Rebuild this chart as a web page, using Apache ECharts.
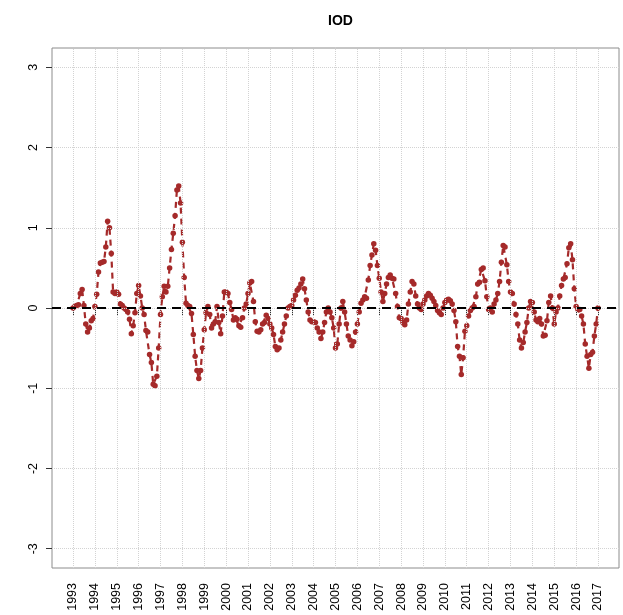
<!DOCTYPE html>
<html>
<head>
<meta charset="utf-8">
<script src="https://cdn.jsdelivr.net/npm/echarts@6/dist/echarts.min.js"></script>
<style>
html,body{margin:0;padding:0;background:#fff;}
#chart{width:623px;height:615px;}
</style>
</head>
<body>
<div id="chart"></div>
<script>
// Monthly IOD index, Jan 1993 .. Jan 2017
const startYear = 1993;
const iodValues = [
  // 1993
  0.00, 0.02, 0.03, 0.04, 0.18, 0.23, 0.03, -0.20, -0.30, -0.25, -0.16, -0.13,
  // 1994
  0.02, 0.17, 0.45, 0.56, 0.57, 0.58, 0.76, 1.08, 1.00, 0.68, 0.20, 0.18,
  // 1995
  0.20, 0.17, 0.05, 0.03, 0.00, -0.02, -0.05, -0.14, -0.32, -0.22, -0.06, 0.18,
  // 1996
  0.28, 0.15, 0.00, -0.08, -0.28, -0.30, -0.58, -0.68, -0.95, -0.97, -0.85, -0.50,
  // 1997
  -0.08, 0.14, 0.27, 0.20, 0.27, 0.50, 0.73, 0.93, 1.15, 1.47, 1.52, 1.31,
  // 1998
  0.82, 0.38, 0.06, 0.03, 0.02, -0.07, -0.33, -0.60, -0.78, -0.88, -0.78, -0.50,
  // 1999
  -0.27, -0.06, 0.02, -0.08, -0.25, -0.20, -0.17, 0.02, -0.18, -0.32, -0.10, 0.20,
  // 2000
  0.20, 0.18, 0.07, -0.02, -0.15, -0.12, -0.14, -0.22, -0.24, -0.12, 0.00, 0.05,
  // 2001
  0.18, 0.31, 0.33, 0.08, -0.17, -0.29, -0.30, -0.27, -0.20, -0.18, -0.09, -0.13,
  // 2002
  -0.20, -0.25, -0.33, -0.48, -0.52, -0.50, -0.40, -0.30, -0.20, -0.10, 0.00, 0.02,
  // 2003
  0.03, 0.10, 0.16, 0.22, 0.25, 0.30, 0.36, 0.24, 0.10, -0.05, -0.15, -0.17,
  // 2004
  -0.17, -0.18, -0.25, -0.30, -0.38, -0.30, -0.18, -0.05, 0.00, -0.05, -0.12, -0.25,
  // 2005
  -0.50, -0.45, -0.20, 0.00, 0.08, -0.05, -0.20, -0.35, -0.40, -0.47, -0.42, -0.30,
  // 2006
  -0.20, -0.05, 0.06, 0.10, 0.14, 0.12, 0.35, 0.53, 0.66, 0.80, 0.72, 0.53,
  // 2007
  0.37, 0.20, 0.08, 0.18, 0.30, 0.38, 0.41, 0.37, 0.36, 0.18, 0.02, -0.12,
  // 2008
  -0.13, -0.18, -0.21, -0.15, 0.05, 0.20, 0.33, 0.30, 0.15, 0.05, 0.00, -0.02,
  // 2009
  0.05, 0.10, 0.15, 0.18, 0.16, 0.12, 0.08, 0.03, -0.03, -0.06, -0.08, 0.00,
  // 2010
  0.07, 0.10, 0.11, 0.09, 0.05, -0.03, -0.17, -0.48, -0.60, -0.83, -0.62, -0.29,
  // 2011
  -0.22, -0.10, -0.03, 0.00, 0.02, 0.14, 0.30, 0.32, 0.48, 0.50, 0.34, 0.14,
  // 2012
  -0.02, 0.00, -0.05, 0.05, 0.10, 0.18, 0.33, 0.57, 0.78, 0.76, 0.54, 0.33,
  // 2013
  0.20, 0.18, 0.05, -0.08, -0.20, -0.40, -0.50, -0.43, -0.30, -0.18, 0.00, 0.08,
  // 2014
  0.07, -0.05, -0.15, -0.17, -0.13, -0.20, -0.35, -0.34, -0.16, 0.07, 0.15, 0.00,
  // 2015
  -0.20, -0.05, 0.00, 0.15, 0.28, 0.36, 0.38, 0.55, 0.75, 0.80, 0.60, 0.24,
  // 2016
  0.02, -0.02, -0.02, -0.10, -0.20, -0.45, -0.60, -0.75, -0.58, -0.55, -0.35, -0.20,
  // 2017
  0.00
];
const yearTicks = [1993,1994,1995,1996,1997,1998,1999,2000,2001,2002,2003,2004,2005,
  2006,2007,2008,2009,2010,2011,2012,2013,2014,2015,2016,2017];
const yTicks = [-3,-2,-1,0,1,2,3];
const titleText = 'IOD';

const seriesData = iodValues.map((v, i) => [startYear + i / 12, v]);
const xMin = 1992.04, xMax = 2017.96;
const yMin = -3.24, yMax = 3.24;

const gridStyle = {color: '#d3d3d3', type: 'dotted', width: 1};
const gridLines = [];
yearTicks.forEach(y => gridLines.push({xAxis: y, lineStyle: gridStyle}));
yTicks.forEach(v => gridLines.push({yAxis: v, lineStyle: gridStyle}));

const chart = echarts.init(document.getElementById('chart'), null, {renderer: 'canvas'});
chart.setOption({
  animation: false,
  backgroundColor: '#ffffff',
  textStyle: {fontFamily: 'Liberation Sans, Arial, sans-serif'},
  title: {
    text: titleText,
    left: 323,
    top: 9,
    textStyle: {fontSize: 14, fontWeight: 'bold', color: '#000', fontFamily: 'Liberation Sans, Arial, sans-serif'}
  },
  grid: {
    left: 52, right: 4, top: 48, bottom: 47,
    show: true, borderColor: '#8c8c8c', borderWidth: 1, backgroundColor: 'transparent'
  },
  xAxis: {
    type: 'value', min: xMin, max: xMax,
    axisLine: {show: false},
    splitLine: {show: false},
    axisTick: {show: true, length: 7, customValues: yearTicks, lineStyle: {color: '#333'}},
    axisLabel: {
      customValues: yearTicks, rotate: 90, margin: 15,
      fontSize: 12.5, color: '#000', showMinLabel: true, showMaxLabel: true,
      formatter: v => String(Math.round(v))
    }
  },
  yAxis: {
    type: 'value', min: yMin, max: yMax,
    axisLine: {show: false},
    splitLine: {show: false},
    axisTick: {show: true, length: 6, customValues: yTicks, lineStyle: {color: '#333'}},
    axisLabel: {
      customValues: yTicks, rotate: 90, margin: 12,
      fontSize: 12.5, color: '#000',
      formatter: v => String(Math.round(v))
    }
  },
  series: [
    {
      type: 'line', z: 1, silent: true,
      data: [[yearTicks[0], 0]], showSymbol: false,
      lineStyle: {opacity: 0},
      markLine: {silent: true, symbol: 'none', label: {show: false}, animation: false, data: gridLines}
    },
    {
      type: 'line', z: 3, name: titleText,
      data: seriesData,
      symbol: 'circle', symbolSize: 5.5, showSymbol: true,
      itemStyle: {color: '#A52A2A'},
      lineStyle: {color: '#A52A2A', width: 2.2, type: [6, 5]},
      markLine: {
        silent: true, symbol: 'none', label: {show: false}, animation: false,
        data: [{yAxis: 0, lineStyle: {color: '#000', width: 2, type: [9, 6]}}]
      }
    }
  ]
});
</script>
</body>
</html>
